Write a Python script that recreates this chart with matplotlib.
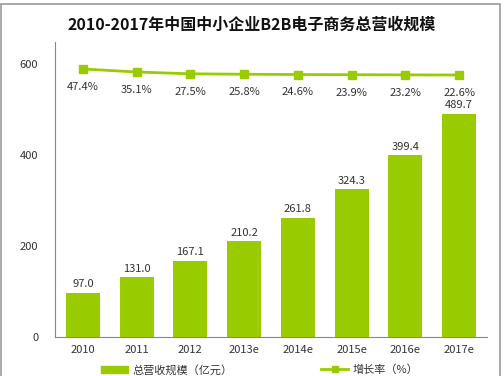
import matplotlib.pyplot as plt
from matplotlib.lines import Line2D
from matplotlib.patches import Patch, Rectangle

plt.rcParams['font.family'] = ['Noto Sans CJK SC', 'DejaVu Sans']

# data
years = ['2010', '2011', '2012', '2013e', '2014e', '2015e', '2016e', '2017e']
revenue = [97.0, 131.0, 167.1, 210.2, 261.8, 324.3, 399.4, 489.7]
growth = [47.4, 35.1, 27.5, 25.8, 24.6, 23.9, 23.2, 22.6]

green = '#99CC00'
txt = '#333333'

fig = plt.figure(figsize=(5.04, 3.76), dpi=100)
ax = fig.add_axes([55/504, 1 - 337/376, (487-55)/504, (337-42)/376])

x = range(len(years))
ax.bar(x, revenue, width=0.63, color=green)
for i, v in enumerate(revenue):
    ax.text(i, v + 8, f'{v:.1f}', ha='center', va='bottom', fontsize=8, color=txt)

ax.set_ylim(0, 648)
ax.set_xlim(-0.52, 7.52)
ax.set_yticks([0, 200, 400, 600])
ax.set_xticks(list(x))
ax.set_xticklabels(years)
ax.tick_params(axis='both', length=0, labelsize=8, colors=txt, pad=6)
ax.tick_params(axis='y', pad=12)
for s in ['top', 'right']:
    ax.spines[s].set_visible(False)
ax.spines['left'].set_color('#888888')
ax.spines['bottom'].set_color('#888888')

# growth line on hidden secondary axis
ax2 = ax.twinx()
ax2.plot(list(x), growth, color=green, lw=2, marker='s', markersize=6)
ax2.set_ylim(-1060, 159)
ax2.axis('off')
for i, g in enumerate(growth):
    ax2.text(i, g - 74, f'{g}%', ha='center', va='center', fontsize=8, color=txt)

fig.text(0.5, 1 - 25/376, '2010-2017年中国中小企业B2B电子商务总营收规模',
         ha='center', va='center', fontsize=11.5, fontweight='bold', color='#111111')

handles = [Patch(color=green),
           Line2D([0], [0], color=green, lw=2, marker='s', markersize=5)]
fig.legend(handles, ['总营收规模（亿元）', '增长率（%）'], loc='center',
           bbox_to_anchor=(0.515, 1 - 370/376), ncol=2, frameon=False,
           fontsize=8, columnspacing=8, handlelength=2.4, handletextpad=0.4,
           labelcolor=txt)

fig.patches.append(Rectangle((0.002, -0.01), 0.99, 1.0, transform=fig.transFigure,
                             fill=False, edgecolor='#999999', lw=1.2))

plt.savefig('out.png', dpi=100)
